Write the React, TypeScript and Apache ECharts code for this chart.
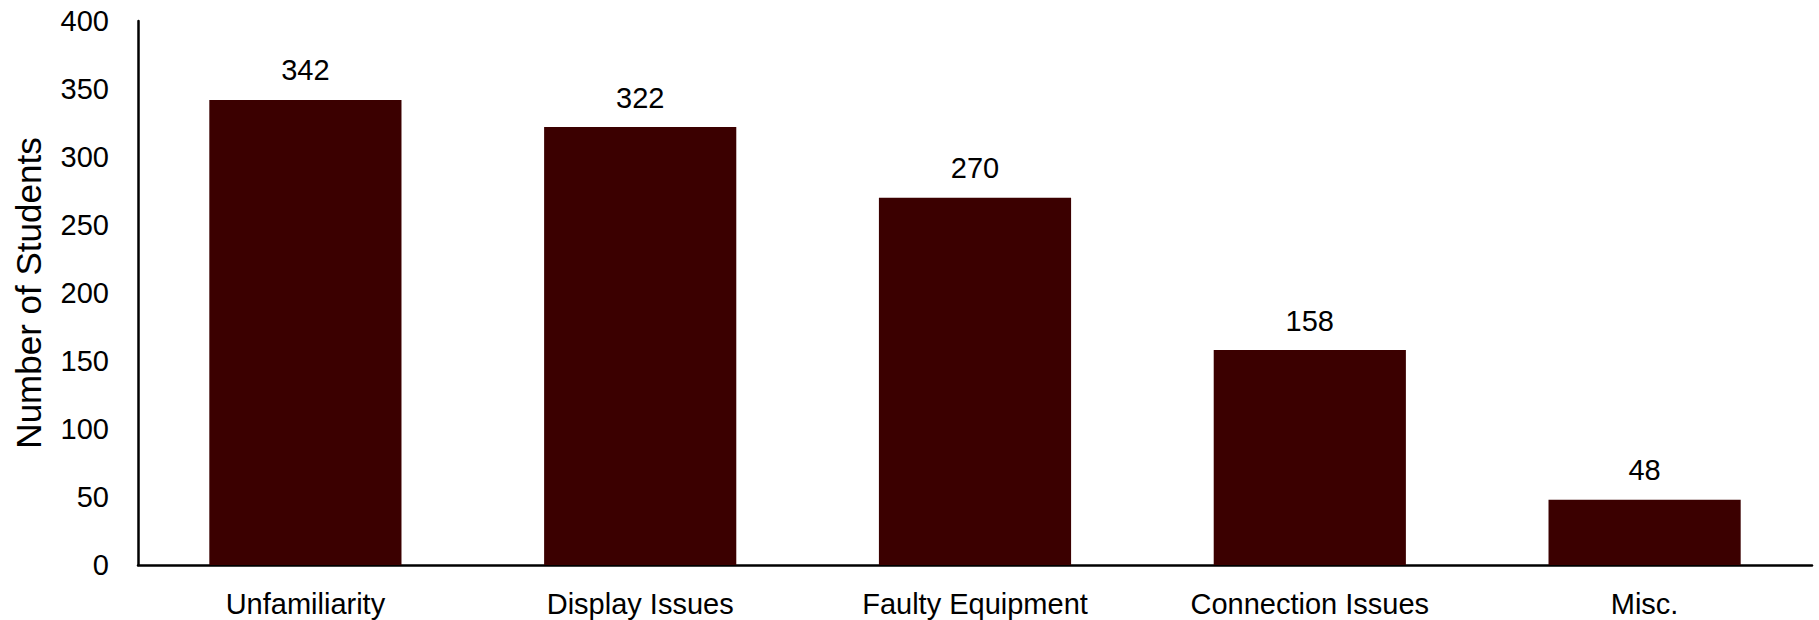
import React, { useEffect, useRef } from "react";
import * as echarts from "echarts";

const categories = ["Unfamiliarity", "Display Issues", "Faulty Equipment", "Connection Issues", "Misc."];
const values = [342, 322, 270, 158, 48];
const yTicks = { min: 0, max: 400, interval: 50 };

export default function App() {
  const ref = useRef<HTMLDivElement>(null);
  useEffect(() => {
    if (!ref.current) return;
    const chart = echarts.init(ref.current, null, { renderer: "svg" });
    chart.setOption({
      animation: false,
      grid: { left: 138, right: 7, top: 21, bottom: 55, containLabel: false },
      xAxis: {
        type: "category",
        data: categories,
        axisLine: { show: true, lineStyle: { color: "#000", width: 2.5 } },
        axisTick: { show: false },
        axisLabel: { color: "#000", fontSize: 29, fontFamily: "Liberation Sans", margin: 24 },
      },
      yAxis: {
        type: "value",
        min: yTicks.min,
        max: yTicks.max,
        interval: yTicks.interval,
        name: "Number of Students",
        nameLocation: "middle",
        nameGap: 92,
        nameTextStyle: { color: "#000", fontSize: 35, fontFamily: "Liberation Sans" },
        axisLine: { show: true, lineStyle: { color: "#000", width: 2.5 } },
        axisTick: { show: false },
        splitLine: { show: false },
        axisLabel: { color: "#000", fontSize: 29, fontFamily: "Liberation Sans", margin: 29 },
      },
      series: [
        {
          type: "bar",
          data: values,
          barCategoryGap: "42.6%",
          itemStyle: { color: "#3b0000" },
          label: {
            show: true,
            position: "top",
            distance: 15,
            color: "#000",
            fontSize: 29,
            fontFamily: "Liberation Sans",
          },
        },
      ],
    });
    return () => chart.dispose();
  }, []);
  return <div ref={ref} style={{ width: 1819, height: 620, position: "absolute", left: 0, top: 0 }} />;
}
